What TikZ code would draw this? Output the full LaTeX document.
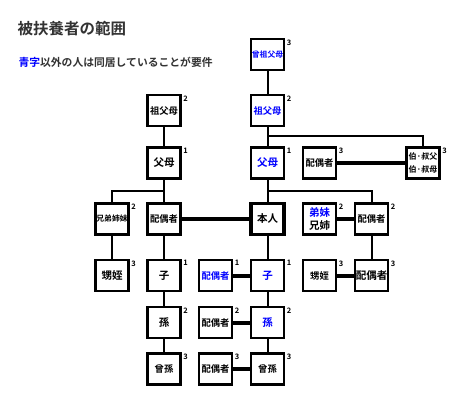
\documentclass[tikz,border=0pt]{standalone}
\usepackage{fontspec}
\setmainfont{Noto Sans CJK JP}[BoldFont={Noto Sans CJK JP Bold}]
\definecolor{titlegray}{RGB}{51,51,51}
\definecolor{kinblue}{RGB}{0,0,255}

\begin{document}
\begin{tikzpicture}[x=1pt, y=-1pt,
    kin/.style = {draw, line width=2.3pt, minimum width=33pt, minimum height=31pt,
                  inner sep=0pt, font=\bfseries\fontsize{9.3}{11}\selectfont, align=center},
    small/.style = {font=\bfseries\fontsize{7.8}{10.5}\selectfont},
    pair/.style = {font=\bfseries\fontsize{8}{13}\selectfont},
    big/.style = {font=\bfseries\fontsize{10.5}{12.5}\selectfont},
    self/.style = {kin, line width=3.4pt, big},
    blu/.style = {text=kinblue},
    link/.style = {line width=2pt},
    marriage/.style = {line width=4pt},
    deg/.style = {label={[anchor=north west, inner sep=1.5pt, font=\bfseries\fontsize{7.5}{8}\selectfont]north east:#1}}]
    \useasboundingbox (0,0) rectangle (471,416);

    % Heading
    \node[anchor=west, text=titlegray, font=\bfseries\fontsize{15.5}{18}\selectfont] (title) at (14,28.5) {被扶養者の範囲};
    \node[anchor=west, text=titlegray, font=\bfseries\fontsize{10.8}{13}\selectfont] (note) at (15,62.5) {\textcolor{kinblue}{青字}以外の人は同居していることが要件};

    % Ancestors
    \node[kin, small, blu, deg=3] (ggp) at (267.5,54.5) {曾祖父母};
    \node[kin, deg=2] (gpL) at (164,110.5) {祖父母};
    \node[kin, blu, deg=2] (gpR) at (267.5,110.5) {祖父母};
    \node[kin, big, deg=1] (parL) at (164,163) {父母};
    \node[kin, big, blu, deg=1] (parR) at (267.5,163) {父母};
    \node[kin, deg=3] (uncleSp) at (319.5,163) {配偶者};
    \node[kin, pair, deg=3] (uncle) at (423,163) {伯·叔父\\伯·叔母};

    % Own generation
    \node[kin, small, deg=2] (sibL) at (112,219) {兄弟姉妹};
    \node[kin] (spouse) at (164,219) {配偶者};
    \node[self] (me) at (267.5,219) {本人};
    \node[kin, big, deg=2] (sibR) at (319.5,219) {\textcolor{kinblue}{弟妹}\\兄姉};
    \node[kin, deg=2] (sibSp) at (371.5,219) {配偶者};

    % Children
    \node[kin, big, deg=3] (nephL) at (112,275.5) {甥姪};
    \node[kin, big, deg=1] (childL) at (164,275.5) {子};
    \node[kin, blu, deg=1] (childSp) at (215.5,275.5) {配偶者};
    \node[kin, big, blu, deg=1] (childR) at (267.5,275.5) {子};
    \node[kin, deg=3] (nephR) at (319.5,275.5) {甥姪};
    \node[kin, big, deg=3] (nephSp) at (371.5,275.5) {配偶者};

    % Grandchildren
    \node[kin, big, deg=2] (gcL) at (164,322.5) {孫};
    \node[kin, deg=2] (gcSp) at (215.5,322.5) {配偶者};
    \node[kin, big, blu, deg=2] (gcR) at (267.5,322.5) {孫};
    \node[kin, deg=3] (ggcL) at (164,369) {曾孫};
    \node[kin, deg=3] (ggcSp) at (215.5,369) {配偶者};
    \node[kin, deg=3] (ggcR) at (267.5,369) {曾孫};

    % Blood lines
    \draw[link] (ggp) -- (gpR);
    \draw[link] (gpL) -- (parL);
    \draw[link] (gpR) -- (parR);
    \draw[link] (uncle.north) -- ++(0,-10.5) -| (gpR.south);
    \draw[link] (parL) -- (spouse);
    \draw[link] (sibL.north) -- ++(0,-11) -| (parL.south);
    \draw[link] (parR) -- (me);
    \draw[link] (sibSp.north) -- ++(0,-11.5) -| (parR.south);
    \draw[link] (sibL) -- (nephL);
    \draw[link] (spouse) -- (childL);
    \draw[link] (me) -- (childR);
    \draw[link] (sibSp) -- (nephSp);
    \draw[link] (childL) -- (gcL) -- (ggcL);
    \draw[link] (childR) -- (gcR) -- (ggcR);

    % Marriages
    \draw[marriage] (uncleSp) -- (uncle);
    \draw[marriage] (spouse) -- (me);
    \draw[marriage] (sibR) -- (sibSp);
    \draw[marriage] (childSp) -- (childR);
    \draw[marriage] (nephR) -- (nephSp);
    \draw[marriage] (gcSp) -- (gcR);
    \draw[marriage] (ggcSp) -- (ggcR);
\end{tikzpicture}
\end{document}
